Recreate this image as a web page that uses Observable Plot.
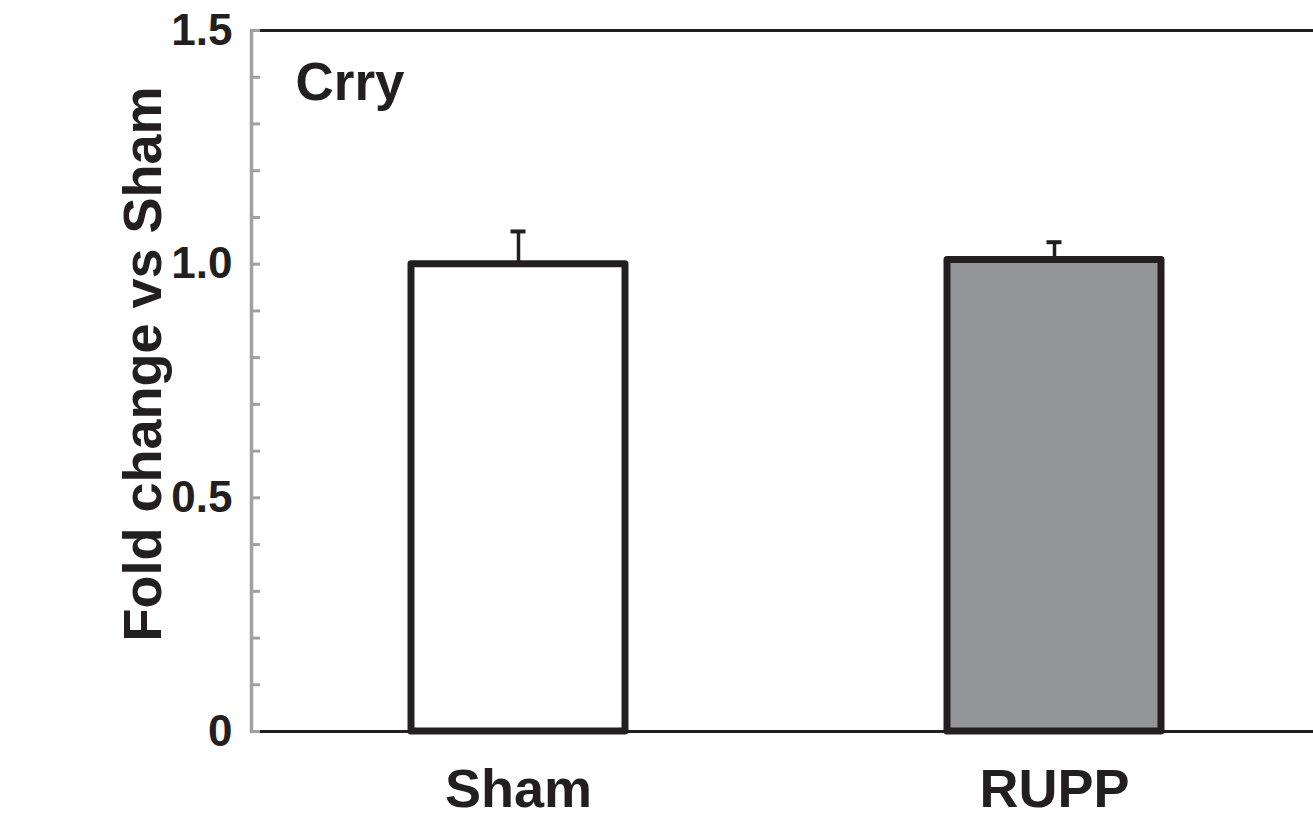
<!DOCTYPE html>
<html><head><meta charset="utf-8">
<script src="https://cdn.jsdelivr.net/npm/d3@7"></script>
<script src="https://cdn.jsdelivr.net/npm/@observablehq/plot@0.6"></script>
<style>body{margin:0;background:#fff}</style>
</head><body><div id="chart"></div>
<script>
const groups = ["Sham", "RUPP"];
const means = [1.0, 1.009];
const sems = [0.070, 0.038];
const barFills = ["#ffffff", "#939598"];
const yLabelTicks = [0, 0.5, 1.0, 1.5];
const yLabelText = ["0", "0.5", "1.0", "1.5"];
const yMinorTicks = [0, 0.1, 0.2, 0.3, 0.4, 0.5, 0.6, 0.7, 0.8, 0.9, 1.0, 1.1, 1.2, 1.3, 1.4, 1.5];
const panelTitle = "Crry";
const yTitle = "Fold change vs Sham";

const data = groups.map((g, i) => ({group: g, mean: means[i], top: means[i] + sems[i], fill: barFills[i]}));
const ink = "#231f20";
const axisGray = "#a0a0a0";
const font = "'Liberation Sans', Arial, Helvetica, sans-serif";
const narrow = "'Liberation Sans Narrow', 'Arial Narrow', 'Liberation Sans', Arial, sans-serif";

const chart = Plot.plot({
  width: 1313, height: 828,
  marginLeft: 251, marginRight: 0, marginTop: 30, marginBottom: 97,
  style: {fontFamily: font, background: "#fff"},
  x: {domain: groups, paddingInner: 0.6, paddingOuter: 0.29, align: 0.515, axis: null},
  y: {domain: [0, 1.5], axis: null},
  color: {type: "identity"},
  marks: [
    Plot.ruleY([0, 1.5], {stroke: ink, strokeWidth: 3}),
    Plot.axisY(yMinorTicks, {anchor: "left", tickSize: -9, stroke: axisGray, strokeWidth: 3, tickFormat: () => "", label: null}),
    Plot.axisY(yLabelTicks, {anchor: "left", tickSize: 0, tickPadding: 19, fontSize: 44, fontWeight: "bold", fontFamily: narrow, fill: ink, tickFormat: d => yLabelText[yLabelTicks.indexOf(d)], label: null}),
    Plot.frame({anchor: "left", stroke: axisGray, strokeWidth: 3.5}),
    Plot.ruleX(data, {x: "group", y1: "mean", y2: "top", stroke: ink, strokeWidth: 3.5}),
    Plot.tickY(data, {x: "group", y: "top", stroke: ink, strokeWidth: 4, insetLeft: 99.5, insetRight: 99.5}),
    Plot.barY(data, {x: "group", y: "mean", fill: "fill", stroke: ink, strokeWidth: 7, strokeLinejoin: "round"}),
    Plot.axisX({anchor: "bottom", tickSize: 0, tickPadding: 37, fontSize: 54, fontWeight: "bold", fill: ink, label: null}),
    Plot.text([panelTitle], {frameAnchor: "top-left", dx: 44, dy: 32, lineAnchor: "top", textAnchor: "start", fontSize: 53, fontWeight: "bold", fill: ink}),
    Plot.text([yTitle], {frameAnchor: "left", rotate: -90, dx: -129, dy: -17, lineAnchor: "top", textAnchor: "middle", fontSize: 54, fontWeight: "bold", fill: ink})
  ]
});
document.getElementById("chart").appendChild(chart);
</script>
</body></html>
